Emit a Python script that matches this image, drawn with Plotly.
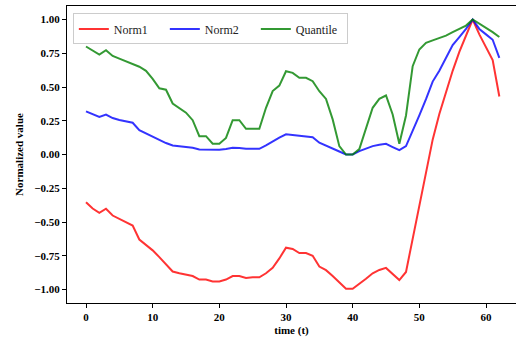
import plotly.graph_objects as go

t = list(range(63))

norm1 = [-0.353, -0.40, -0.432, -0.402, -0.452, -0.478, -0.50, -0.526, -0.63, -0.67,
         -0.71, -0.76, -0.81, -0.867, -0.88, -0.89, -0.90, -0.926, -0.926, -0.94,
         -0.94, -0.926, -0.90, -0.90, -0.914, -0.91, -0.91, -0.88, -0.84, -0.77,
         -0.69, -0.70, -0.73, -0.73, -0.75, -0.83, -0.857, -0.90, -0.95, -0.995,
         -0.995, -0.96, -0.92, -0.88, -0.855, -0.84, -0.885, -0.93, -0.87, -0.625,
         -0.38, -0.135, 0.11, 0.30, 0.46, 0.62, 0.76, 0.88, 1.0, 0.89,
         0.79, 0.70, 0.43]

norm2 = [0.32, 0.30, 0.279, 0.296, 0.27, 0.255, 0.245, 0.235, 0.18, 0.155,
         0.13, 0.105, 0.085, 0.067, 0.06, 0.055, 0.05, 0.037, 0.035, 0.032,
         0.035, 0.04, 0.05, 0.048, 0.042, 0.042, 0.042, 0.067, 0.099, 0.125,
         0.15, 0.145, 0.138, 0.135, 0.128, 0.087, 0.067, 0.045, 0.022, 0.0,
         0.0, 0.025, 0.045, 0.062, 0.072, 0.079, 0.055, 0.032, 0.062, 0.17,
         0.29, 0.41, 0.54, 0.62, 0.72, 0.81, 0.87, 0.93, 1.0, 0.93,
         0.89, 0.85, 0.716]

quantile = [0.80, 0.77, 0.74, 0.773, 0.73, 0.71, 0.69, 0.674, 0.65, 0.62,
            0.56, 0.49, 0.48, 0.378, 0.345, 0.31, 0.254, 0.136, 0.136, 0.08,
            0.08, 0.123, 0.254, 0.254, 0.19, 0.19, 0.19, 0.346, 0.47, 0.51,
            0.617, 0.605, 0.568, 0.568, 0.543, 0.469, 0.412, 0.26, 0.062, 0.0,
            0.0, 0.04, 0.19, 0.346, 0.412, 0.437, 0.296, 0.08, 0.289, 0.654,
            0.778, 0.827, 0.845, 0.86, 0.88, 0.906, 0.93, 0.955, 1.0, 0.97,
            0.94, 0.906, 0.87]

series = [("Norm1", norm1, "rgba(255,0,0,0.8)"),
          ("Norm2", norm2, "rgba(0,0,255,0.8)"),
          ("Quantile", quantile, "rgba(0,128,0,0.8)")]

y_ticks = [-1.0, -0.75, -0.5, -0.25, 0.0, 0.25, 0.5, 0.75, 1.0]
y_tick_labels = ["\u22121.00", "\u22120.75", "\u22120.50", "\u22120.25", "0.00",
                 "0.25", "0.50", "0.75", "1.00"]
x_ticks = [0, 10, 20, 30, 40, 50, 60]
x_tick_labels = ["0", "10", "20", "30", "40", "50", "60"]

fig = go.Figure()
for name, vals, col in series:
    fig.add_trace(go.Scatter(x=t, y=vals, mode="lines", name=name,
                             line=dict(color=col, width=2)))

serif = "Liberation Serif"
fig.update_layout(
    width=516, height=343,
    margin=dict(l=67, r=0, t=6, b=40),
    plot_bgcolor="white", paper_bgcolor="white",
    font=dict(family=serif, color="black"),
    legend=dict(orientation="h", x=0.013, y=0.975, xanchor="left", yanchor="top",
                bgcolor="rgba(255,255,255,0.8)", bordercolor="#cccccc", borderwidth=1,
                font=dict(family=serif, size=12, color="#222"),
                entrywidth=46, entrywidthmode="pixels"),
    showlegend=True,
)
fig.update_xaxes(range=[-2.85, 64.5], tickvals=x_ticks,
                 ticktext=["<b>%s</b>" % s for s in x_tick_labels],
                 ticks="outside", ticklen=4,
                 tickcolor="black", showline=True, linecolor="black", linewidth=1,
                 mirror=True, showgrid=False, zeroline=False, automargin=False,
                 tickfont=dict(family=serif, size=11, color="black"),
                 title=dict(text="<b>time (t)</b>", font=dict(family=serif, size=11),
                            standoff=4))
fig.update_yaxes(range=[-1.1, 1.1], tickvals=y_ticks,
                 ticktext=["<b>%s</b>" % s for s in y_tick_labels],
                 ticks="outside",
                 ticklen=4, tickcolor="black", showline=True, linecolor="black",
                 linewidth=1, showgrid=False, zeroline=False, automargin=False,
                 tickfont=dict(family=serif, size=11, color="black"),
                 title=dict(text="<b>Normalized value</b>", font=dict(family=serif, size=11),
                            standoff=8))

fig.write_html("out.html", config={"displayModeBar": False},
               post_script="document.body.style.margin='0';document.body.style.overflow='hidden';")
